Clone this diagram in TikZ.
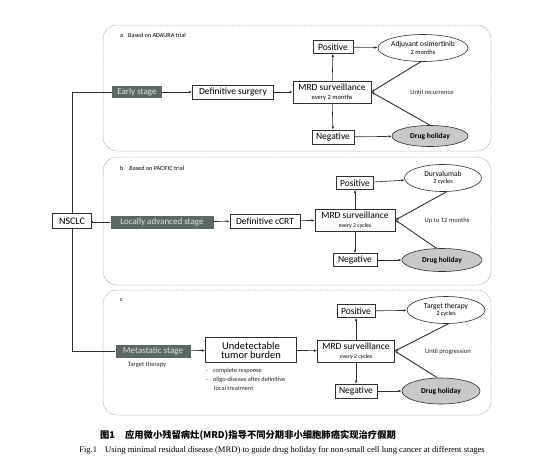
\documentclass[tikz,border=0pt]{standalone}
\usepackage{fontspec}
\usetikzlibrary{arrows.meta,shapes.geometric}
\newfontfamily\dfont{Carlito}
\newfontfamily\capfont{Liberation Serif}
\newfontfamily\cjk{Noto Sans CJK SC}
\definecolor{stagefill}{HTML}{5C6863}
\definecolor{holfill}{HTML}{C8C8C8}
\definecolor{panelc}{HTML}{9A9A9A}
\definecolor{linec}{HTML}{303030}
\begin{document}
\begin{tikzpicture}[x=1pt,y=-1pt,
  panel/.style={draw=panelc,line width=0.5pt,dash pattern=on 1pt off 0.8pt,rounded corners=14pt},
  bx/.style={draw=linec,line width=0.6pt,fill=white,inner sep=0pt,align=center,font=\dfont\fontsize{9.5}{10}\selectfont},
  stagebox/.style={fill=stagefill,text=white!88!black,inner sep=0pt,font=\dfont\fontsize{9}{10}\selectfont},
  ell/.style={ellipse,draw=linec,line width=0.6pt,fill=white,inner sep=0pt,align=center,font=\dfont\fontsize{7.5}{8.5}\selectfont},
  hol/.style={ellipse,draw=linec,line width=0.6pt,fill=holfill,inner sep=0pt,font=\dfont\bfseries\fontsize{7.5}{8.5}\selectfont},
  small/.style={font=\dfont\fontsize{6.2}{7}\selectfont,inner sep=0pt},
  note/.style={font=\dfont\fontsize{6.6}{7.5}\selectfont,inner sep=0pt,text=black!85},
  conn/.style={draw=linec,line width=0.6pt},
  arr/.style={conn,-{Latex[length=3.2pt,width=2.6pt]}},
  diag/.style={draw=linec,line width=0.9pt,-{Latex[length=3.2pt,width=2.6pt]}}
]
\useasboundingbox (0,0) rectangle (545,464);
\fill[white] (0,0) rectangle (545,464);

% panels
\draw[panel] (103,25) rectangle (491,151);
\draw[panel] (103,157) rectangle (491,285);
\draw[panel] (103,290) rectangle (491,415);

\node[small,anchor=west] (la) at (120,35) {a\hspace{5pt}Based on ADAURA trial};
\node[small,anchor=west] (lb) at (120,168) {b\hspace{6pt}Based on PACIFIC trial};
\node[small,anchor=west] (lc) at (120,300) {c};

% NSCLC
\node[bx,minimum width=39pt,minimum height=15pt,font=\dfont\fontsize{10}{11}\selectfont] (nsclc) at (72,221) {NSCLC};

% panel a
\node[stagebox,minimum width=50pt,minimum height=12pt] (early) at (137,92) {Early stage};
\node[bx,minimum width=81pt,minimum height=14pt] (surg) at (233,92) {Definitive surgery};
\node[bx,minimum width=78pt,minimum height=22pt] (mrdA) at (332,92) {MRD surveillance\\[-1.5pt]{\fontsize{6.5}{7}\selectfont every 2 months}};
\node[bx,minimum width=40pt,minimum height=13pt] (posA) at (333,47) {Positive};
\node[bx,minimum width=42pt,minimum height=14pt] (negA) at (333,137) {Negative};
\node[ell,minimum width=90pt,minimum height=27pt] (adjA) at (423,48) {Adjuvant osimertinib\\[-1pt]{\fontsize{6.5}{7}\selectfont 2 months}};
\node[hol,minimum width=76pt,minimum height=21pt] (holA) at (430,136) {Drug holiday};
\node[note] (untA) at (432,92) {Until recurrence};

\draw[arr] (early) -- (surg);
\draw[arr] (surg) -- (mrdA);
\draw[arr] (mrdA) -- (posA);
\draw[arr] (mrdA) -- (negA);
\draw[arr] (posA) -- (adjA);
\draw[arr] (negA) -- (holA);
\draw[diag] (adjA.-100) -- (mrdA.east);
\draw[diag] (holA.north) -- (mrdA.east);

% panel b
\node[stagebox,minimum width=103pt,minimum height=13pt] (loc) at (162,222) {Locally advanced stage};
\node[bx,minimum width=70pt,minimum height=14pt] (ccrt) at (265,221) {Definitive cCRT};
\node[bx,minimum width=80pt,minimum height=22pt] (mrdB) at (355,220) {MRD surveillance\\[-1.5pt]{\fontsize{5.8}{6}\selectfont every 2 cycles}};
\node[bx,minimum width=37pt,minimum height=13pt] (posB) at (355,183) {Positive};
\node[bx,minimum width=44pt,minimum height=13pt] (negB) at (355,260) {Negative};
\node[ell,minimum width=77pt,minimum height=27pt] (durv) at (443,178) {Durvalumab\\[-1pt]{\fontsize{6.2}{7}\selectfont 2 cycles}};
\node[hol,minimum width=80pt,minimum height=23pt] (holB) at (442,260) {Drug holiday};
\node[note] (untB) at (447,221) {Up to 12 months};

\draw[arr] (loc) -- (ccrt);
\draw[arr] (ccrt) -- (mrdB);
\draw[arr] (mrdB) -- (posB);
\draw[arr] (mrdB) -- (negB);
\draw[arr] (posB) -- (durv);
\draw[arr] (negB) -- (holB);
\draw[diag] (durv.-75) -- (mrdB.east);
\draw[diag] (holB.115) -- (mrdB.east);

% panel c
\node[stagebox,minimum width=75pt,minimum height=13pt] (meta) at (153,351) {Metastatic stage};
\node[note,font=\dfont\fontsize{6.5}{7}\selectfont] (mtt) at (147,365) {Target therapy};
\node[bx,minimum width=91pt,minimum height=25pt,font=\dfont\fontsize{10.5}{11}\selectfont] (undet) at (251,350) {Undetectable\\[-2pt]tumor burden};
\node[note,anchor=north west,align=left,font=\dfont\fontsize{6.3}{9}\selectfont] (bul) at (206,368) {-\hspace{5pt}complete response\\-\hspace{5pt}oligo-disease after definitive\\\hspace{8pt}local treatment};
\node[bx,minimum width=77pt,minimum height=22pt] (mrdC) at (356,351) {MRD surveillance\\[-1.5pt]{\fontsize{5.8}{6}\selectfont every 2 cycles}};
\node[bx,minimum width=38pt,minimum height=13pt] (posC) at (356,311) {Positive};
\node[bx,minimum width=42pt,minimum height=14pt] (negC) at (356,391) {Negative};
\node[ell,minimum width=78pt,minimum height=27pt] (tgt) at (446,310) {Target therapy\\[-1pt]{\fontsize{6.2}{7}\selectfont 2 cycles}};
\node[hol,minimum width=78pt,minimum height=26pt] (holC) at (441,391) {Drug holiday};
\node[note] (untC) at (448,352) {Until progression};

\draw[arr] (meta) -- (undet);
\draw[arr] (undet) -- (mrdC);
\draw[arr] (mrdC) -- (posC);
\draw[arr] (mrdC) -- (negC);
\draw[arr] (posC) -- (tgt);
\draw[arr] (negC) -- (holC);
\draw[diag] (tgt.-80) -- (mrdC.east);
\draw[diag] (holC.105) -- (mrdC.east);

% trunk
\draw[conn] (nsclc.north) -- (nsclc.north |- early.west) -- (early.west);
\draw[conn] (nsclc.south) -- (nsclc.south |- meta.west) -- (meta.west);
\draw[conn] (nsclc.east) -- (nsclc.east |- loc.west) -- (loc.west);

% caption
\node[font=\cjk\bfseries\fontsize{9.3}{10}\selectfont,inner sep=0pt] (capcn) at (248,435) {图1\hspace{10pt}应用微小残留病灶(MRD)指导不同分期非小细胞肺癌实现治疗假期};
\node[font=\capfont\fontsize{8.6}{10}\selectfont,inner sep=0pt] (capen) at (282,450) {Fig.1\hspace{8pt}Using minimal residual disease (MRD) to guide drug holiday for non-small cell lung cancer at different stages};
\end{tikzpicture}
\end{document}
